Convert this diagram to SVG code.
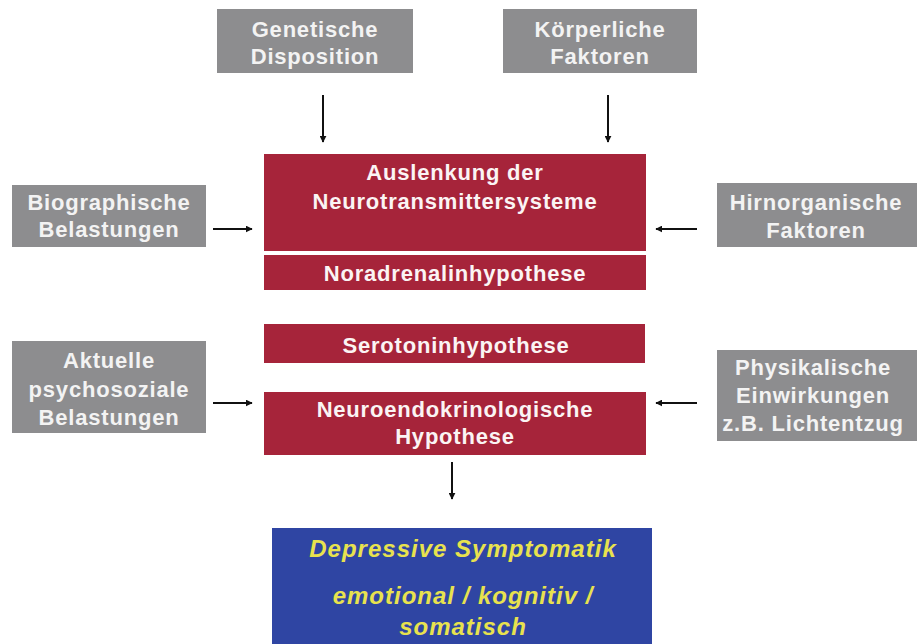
<svg xmlns="http://www.w3.org/2000/svg" width="917" height="644" viewBox="0 0 917 644">
<style>
.g{fill:#8d8d8f}
.r{fill:#a6243a}
.b{fill:#2f45a3}
text{font-family:"Liberation Sans",Arial,sans-serif;font-weight:bold;font-size:22px;letter-spacing:0.8px;text-anchor:middle}
.gt{fill:#f3f3f3}
.rt{fill:#fbf4f4}
.bt{fill:#e8e24e;font-style:italic;font-size:24px;letter-spacing:1px}
.c{stroke:#111;stroke-width:2;fill:none;marker-end:url(#ah)}
</style>
<defs>
<marker id="ah" viewBox="0 0 10 10" refX="9" refY="5" markerWidth="3.5" markerHeight="3.5" orient="auto" markerUnits="strokeWidth">
<path d="M0,0 L10,5 L0,10 z" fill="#111"/>
</marker>
</defs>
<rect width="917" height="644" fill="#ffffff"/>
<g id="genetische">
<rect class="g" x="217" y="9" width="196" height="64"/>
<text class="gt" x="315" y="36.5">Genetische</text>
<text class="gt" x="315" y="64">Disposition</text>
</g>
<g id="koerperliche">
<rect class="g" x="503" y="9" width="194" height="64"/>
<text class="gt" x="600" y="36.5">Körperliche</text>
<text class="gt" x="600" y="64">Faktoren</text>
</g>
<g id="biographische">
<rect class="g" x="12" y="185" width="194" height="62"/>
<text class="gt" x="109" y="209.5">Biographische</text>
<text class="gt" x="109" y="237">Belastungen</text>
</g>
<g id="hirnorganische">
<rect class="g" x="717" y="183" width="200" height="64"/>
<text class="gt" x="816" y="210">Hirnorganische</text>
<text class="gt" x="816" y="238">Faktoren</text>
</g>
<g id="aktuelle">
<rect class="g" x="12" y="341" width="194" height="92"/>
<text class="gt" x="109" y="368">Aktuelle</text>
<text class="gt" x="109" y="396.5">psychosoziale</text>
<text class="gt" x="109" y="424.5">Belastungen</text>
</g>
<g id="physikalische">
<rect class="g" x="717" y="350" width="200" height="91"/>
<text class="gt" x="813" y="374.5">Physikalische</text>
<text class="gt" x="813" y="403">Einwirkungen</text>
<text class="gt" x="813" y="430.5">z.B. Lichtentzug</text>
</g>
<g id="auslenkung">
<rect class="r" x="264" y="154" width="382" height="97"/>
<text class="rt" x="455" y="180">Auslenkung der</text>
<text class="rt" x="455" y="208.5">Neurotransmittersysteme</text>
</g>
<g id="noradrenalin">
<rect class="r" x="264" y="255" width="382" height="35"/>
<text class="rt" x="455" y="280.5">Noradrenalinhypothese</text>
</g>
<g id="serotonin">
<rect class="r" x="264" y="324" width="381" height="39"/>
<text class="rt" x="456" y="352.5">Serotoninhypothese</text>
</g>
<g id="neuroendokrin">
<rect class="r" x="264" y="392" width="382" height="63"/>
<text class="rt" x="455" y="416.5">Neuroendokrinologische</text>
<text class="rt" x="455" y="444">Hypothese</text>
</g>
<g id="depressive">
<rect class="b" x="272" y="528" width="380" height="116"/>
<text class="bt" x="463" y="556.5">Depressive Symptomatik</text>
<text class="bt" x="463" y="604">emotional / kognitiv /</text>
<text class="bt" x="463" y="635">somatisch</text>
</g>
<g id="connectors">
<line class="c" x1="323" y1="95" x2="323" y2="142"/>
<line class="c" x1="608" y1="95" x2="608" y2="142"/>
<line class="c" x1="213" y1="229" x2="252" y2="229"/>
<line class="c" x1="697" y1="229" x2="656" y2="229"/>
<line class="c" x1="213" y1="403" x2="252" y2="403"/>
<line class="c" x1="697" y1="403" x2="656" y2="403"/>
<line class="c" x1="452" y1="462" x2="452" y2="499"/>
</g>
</svg>
